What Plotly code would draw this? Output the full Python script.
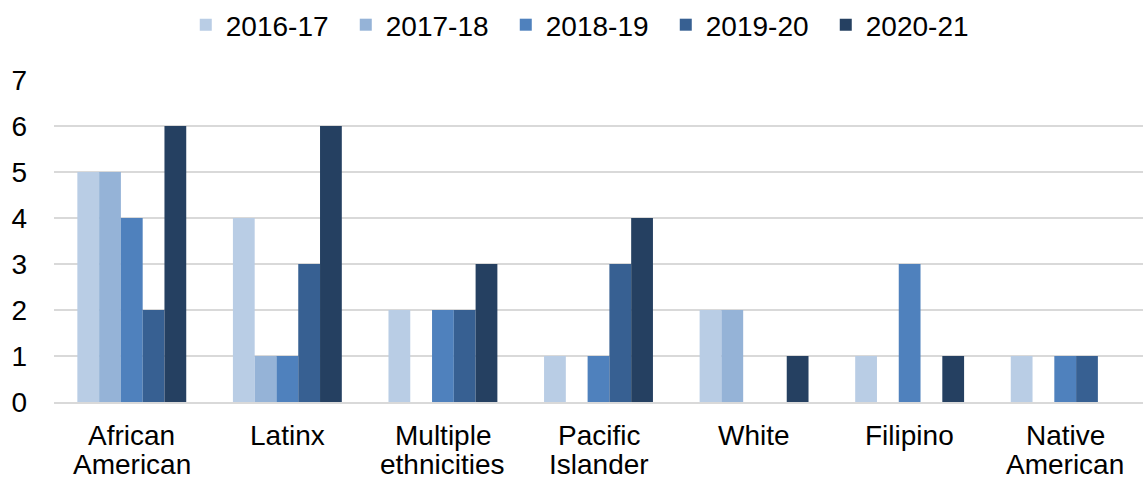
import plotly.graph_objects as go

label_lines = [["African", "American"], ["Latinx"], ["Multiple", "ethnicities"],
               ["Pacific", "Islander"], ["White"], ["Filipino"], ["Native", "American"]]
categories = [" ".join(parts) for parts in label_lines]
years = ["2016-17", "2017-18", "2018-19", "2019-20", "2020-21"]
counts = {
    "2016-17": [5, 4, 2, 1, 2, 1, 1],
    "2017-18": [5, 1, 0, 0, 2, 0, 0],
    "2018-19": [4, 1, 2, 1, 0, 3, 1],
    "2019-20": [2, 3, 2, 3, 0, 0, 1],
    "2020-21": [6, 6, 3, 4, 1, 1, 0],
}
colors = ["#B9CDE5", "#95B3D7", "#4F81BD", "#376092", "#254061"]

fig = go.Figure()
for yr, col in zip(years, colors):
    fig.add_trace(go.Bar(x=categories, y=counts[yr], name=yr, marker_color=col,
                         marker_line_width=0))

font = dict(family="Liberation Sans, Arial, sans-serif", size=28, color="#000000")
plot_top, plot_bottom = 80, 402
plot_h = plot_bottom - plot_top

# category labels, one text per line with tight line spacing
line_px = [435, 464]
for cat, parts in zip(categories, label_lines):
    for i, part in enumerate(parts):
        fig.add_annotation(x=cat, xref="x", y=(plot_bottom - line_px[i]) / plot_h,
                           yref="paper", text=part, showarrow=False,
                           xanchor="center", yanchor="middle", font=font)

fig.update_layout(
    width=1143, height=482,
    margin=dict(l=54, r=0, t=plot_top, b=482 - plot_bottom),
    plot_bgcolor="white", paper_bgcolor="white",
    barmode="group", bargap=0.30, bargroupgap=0,
    font=font,
    legend=dict(orientation="h", x=0.121, xanchor="left", y=1.0, yanchor="top",
                yref="container", font=font, itemwidth=30, tracegroupgap=0,
                entrywidth=115, entrywidthmode="pixels", traceorder="normal"),
    showlegend=True,
)
fig.update_yaxes(range=[0, 7], dtick=1, showgrid=True, gridcolor="#D9D9D9", gridwidth=2,
                 zeroline=False, showline=False, ticks="", ticklabelstandoff=26,
                 tickfont=font, automargin=False)
fig.update_xaxes(showline=True, linecolor="#D9D9D9", linewidth=2, ticks="",
                 showticklabels=False, automargin=False)

fig.write_html("out.html")
